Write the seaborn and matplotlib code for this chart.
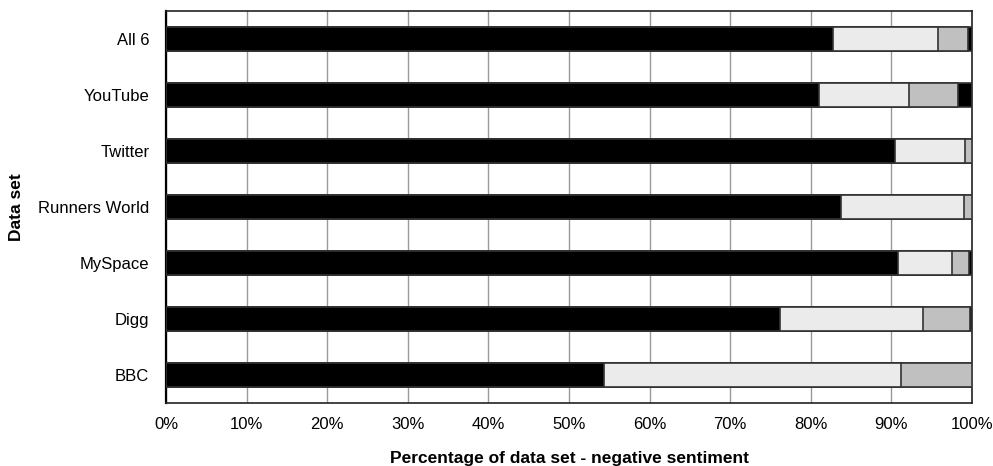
import matplotlib
matplotlib.use("Agg")
import matplotlib.pyplot as plt
import seaborn as sns
import numpy as np
import pandas as pd

categories = ["All 6", "YouTube", "Twitter", "Runners World", "MySpace", "Digg", "BBC"]
seg1 = [82.8, 81.0, 90.4, 83.7, 90.8, 76.2, 54.3]   # black
seg2 = [13.0, 11.2, 8.7, 15.3, 6.7, 17.7, 36.9]     # light dotted
seg3 = [3.7, 6.1, 0.9, 1.0, 2.1, 5.85, 8.8]         # dark dotted
seg4 = [0.5, 1.7, 0.0, 0.0, 0.4, 0.25, 0.0]         # black
xticks = [0, 10, 20, 30, 40, 50, 60, 70, 80, 90, 100]
xticklabels = [f"{t}%" for t in xticks]

sns.set_theme(style="white")
plt.rcParams['font.family'] = ['Liberation Sans', 'DejaVu Sans']
plt.rcParams['text.color'] = 'black'
plt.rcParams['axes.labelcolor'] = 'black'
plt.rcParams['xtick.color'] = 'black'
plt.rcParams['ytick.color'] = 'black'

fig = plt.figure(figsize=(9.93, 4.66), dpi=100)
ax = fig.add_axes([166/993, 1-403/466, (972-166)/993, (403-11)/466])

c1 = np.array(seg1)
c2 = c1 + np.array(seg2)
c3 = c2 + np.array(seg3)
c4 = c3 + np.array(seg4)

layers = [(c4, "#000000"), (c3, "#c0c0c0"), (c2, "#ebebeb"), (c1, "#000000")]
for cum, col in layers:
    df = pd.DataFrame({"cat": categories, "val": cum})
    sns.barplot(data=df, x="val", y="cat", order=categories, orient="h",
                color=col, width=0.43, edgecolor="#333333", linewidth=1.2,
                saturation=1, ax=ax, zorder=3)

ax.set_xlim(0, 100)
ax.set_ylim(len(categories) - 0.5, -0.5)
ax.set_xticks(xticks)
ax.set_xticklabels(xticklabels, fontsize=12)
ax.set_yticks(np.arange(len(categories)))
ax.set_yticklabels(categories, fontsize=12)
ax.set_yticks(np.arange(len(categories) + 1) - 0.5, minor=True)
ax.tick_params(axis='y', which='major', length=0, pad=12)
ax.tick_params(axis='y', which='minor', length=4, width=1, color='#333333', direction='out')
ax.tick_params(axis='x', which='major', length=4, width=1, color='#333333', direction='out', pad=6)

ax.xaxis.grid(True, color="#999999", linewidth=1)
ax.set_axisbelow(True)
for s in ax.spines.values():
    s.set_visible(True)
    s.set_color("#222222")
    s.set_linewidth(1.2)
ax.spines['left'].set_color("#000000")
ax.spines['left'].set_linewidth(1.6)

ax.set_xlabel("Percentage of data set - negative sentiment", fontsize=12.5, fontweight='bold', labelpad=14)
ax.set_ylabel("Data set", fontsize=12.5, fontweight='bold', labelpad=10)

fig.savefig("out.png", dpi=100)
